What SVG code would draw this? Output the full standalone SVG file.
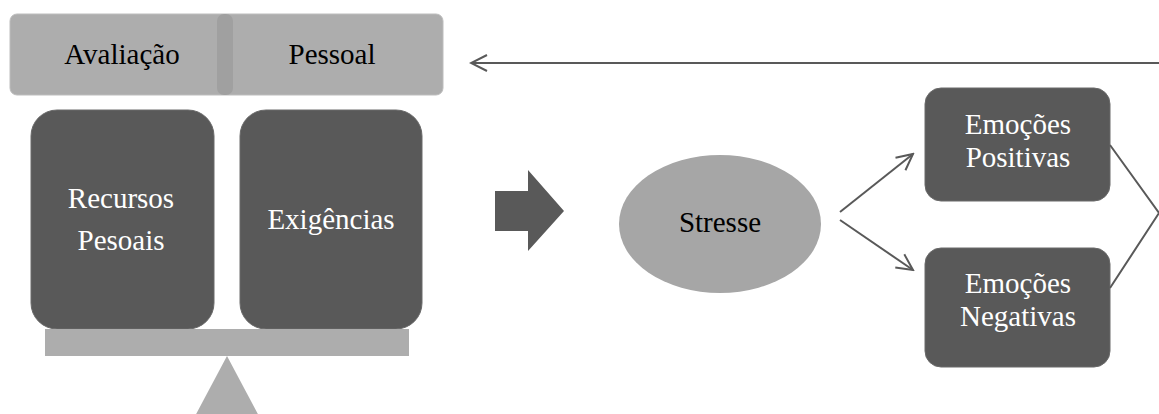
<svg xmlns="http://www.w3.org/2000/svg" width="1159" height="414" viewBox="0 0 1159 414">
<defs>
<style>
.dark{fill:#595959;stroke:#6a6a6a;stroke-width:1}
.light{fill:#adadad;stroke:#bdbdbd;stroke-width:1}
text{font-family:"Liberation Serif","Times New Roman",serif;font-size:29px;text-anchor:middle}
.tw{fill:#ffffff}
.tb{fill:#000000}
.conn{fill:none;stroke:#595959;stroke-width:2}
</style>
<marker id="open" viewBox="0 0 20 20" refX="18" refY="10" markerWidth="20" markerHeight="20" markerUnits="userSpaceOnUse" orient="auto">
<path d="M2,2 L18,10 L2,18" fill="none" stroke="#595959" stroke-width="2"/>
</marker>
</defs>
<rect width="1159" height="414" fill="#ffffff"/>
<g id="avaliacao">
<rect class="light" x="10" y="14" width="433" height="81" rx="7"/>
<rect x="217" y="14" width="16" height="81" rx="7" fill="#a0a0a0"/>
<text class="tb" x="122" y="64">Avaliação</text>
<text class="tb" x="332" y="64">Pessoal</text>
</g>
<g id="recursos">
<rect class="dark" x="31" y="110" width="183" height="219" rx="26"/>
<text class="tw" x="121" y="208">Recursos</text>
<text class="tw" x="121" y="250">Pesoais</text>
</g>
<g id="exigencias">
<rect class="dark" x="240" y="110" width="182" height="219" rx="26"/>
<text class="tw" x="331" y="229">Exigências</text>
</g>
<g id="balanca">
<rect x="45" y="329" width="364" height="27" fill="#adadad"/>
<polygon points="227,356 194,418 260,418" fill="#adadad"/>
</g>
<g id="seta">
<polygon points="495,191 528,191 528,170 564,211 528,251 528,231 495,231" fill="#595959"/>
</g>
<g id="stresse">
<ellipse cx="720" cy="224" rx="101" ry="69" fill="#a6a6a6"/>
<text class="tb" x="720" y="232">Stresse</text>
</g>
<g id="positivas">
<rect class="dark" x="925" y="88" width="185" height="113" rx="16"/>
<text class="tw" x="1018" y="134">Emoções</text>
<text class="tw" x="1018" y="167">Positivas</text>
</g>
<g id="negativas">
<rect class="dark" x="925" y="248" width="185" height="119" rx="16"/>
<text class="tw" x="1018" y="293">Emoções</text>
<text class="tw" x="1018" y="326">Negativas</text>
</g>
<g id="conectores">
<line class="conn" x1="840" y1="212" x2="913" y2="154" marker-end="url(#open)"/>
<line class="conn" x1="840" y1="220" x2="913" y2="270" marker-end="url(#open)"/>
<polyline class="conn" points="1110,145 1159,213 1110,288"/>
<line class="conn" x1="1160" y1="63" x2="471" y2="63" marker-end="url(#open)"/>
</g>
</svg>
